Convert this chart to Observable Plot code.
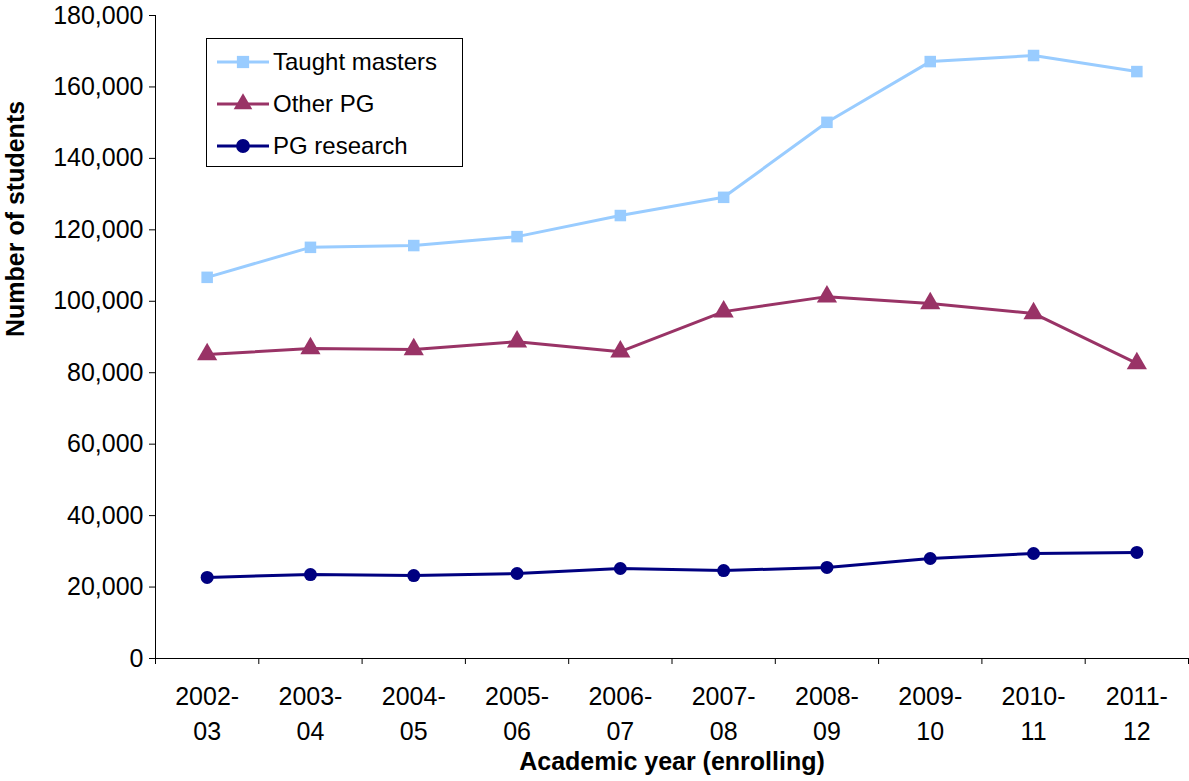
<!DOCTYPE html>
<html><head>
<script src="https://cdn.jsdelivr.net/npm/d3@7"></script>
<script src="https://cdn.jsdelivr.net/npm/@observablehq/plot@0.6"></script>
<style>
body{margin:0;background:#fff;font-family:"Liberation Sans",Arial,sans-serif}
#wrap{position:relative;width:1189px;height:781px}
#legend{position:absolute;left:206px;top:38px;width:255px;height:127px;border:1.5px solid #000;background:#fff;font-size:24px}
.li{position:absolute;left:8px;display:flex;align-items:center}
#chart svg text{font-size:25px}
</style>
</head><body>
<div id="wrap"><div id="chart"></div><div id="legend"></div></div>
<script>
const years = ["2002-03","2003-04","2004-05","2005-06","2006-07","2007-08","2008-09","2009-10","2010-11","2011-12"]
const taught = [106700,115100,115600,118100,124000,129100,150100,167100,168800,164300]
const otherPG = [85100,86800,86500,88700,85900,97100,101300,99400,96600,82600]
const research = [22700,23500,23200,23800,25200,24600,25500,28000,29400,29700]

const series = [
  {name: "Taught masters", values: taught, color: "#99CCFF", symbol: "square"},
  {name: "Other PG", values: otherPG, color: "#993366", symbol: "triangle"},
  {name: "PG research", values: research, color: "#000080", symbol: "circle"}
]
const data = series.flatMap(s => s.values.map((v, i) => ({x: i + 0.5, y: v, s: s.name})))

const marks = [
  Plot.ruleY([0]),
  Plot.ruleX([0]),
  Plot.axisY({ticks: d3.range(0, 180001, 20000), tickFormat: d3.format(","), tickSize: 6, label: null, tickPadding: 6}),
  Plot.axisX({ticks: d3.range(0, 11), tickSize: 6, tickFormat: () => "", label: null}),
  Plot.axisX({ticks: d3.range(0, 10).map(i => i + 0.5), tickSize: 0, tickPadding: 0, tickFormat: d => years[Math.floor(d)].replace("-", "-\n"), lineHeight: 1.4, label: null, dy: 22}),
  Plot.text(["Number of students"], {frameAnchor: "left", dx: -140, rotate: -90, fontWeight: "bold"}),
  Plot.text(["Academic year (enrolling)"], {frameAnchor: "bottom", dy: 111, fontWeight: "bold"})
]
for (const s of series) {
  const d = data.filter(r => r.s === s.name)
  marks.push(Plot.line(d, {x: "x", y: "y", stroke: s.color, strokeWidth: 3}))
  marks.push(Plot.dot(d, {x: "x", y: "y", fill: s.color, symbol: s.symbol, r: s.symbol === "triangle" ? 7.5 : 6.5}))
}

const chart = Plot.plot({
  width: 1189, height: 781,
  marginLeft: 155, marginRight: 1, marginTop: 15, marginBottom: 123,
  style: {fontFamily: "Liberation Sans, Arial, sans-serif", color: "#000"},
  x: {domain: [0, 10], axis: null},
  y: {domain: [0, 180000], axis: null},
  marks
})
d3.select("#chart").append(() => chart)

const lg = d3.select("#legend")
series.forEach((s, i) => {
  const item = lg.append("div").attr("class", "li").style("top", (8 + i * 42) + "px")
  const svg = item.append("svg").attr("width", 56).attr("height", 30)
  svg.append("line").attr("x1", 2).attr("x2", 54).attr("y1", 15).attr("y2", 15).attr("stroke", s.color).attr("stroke-width", 3)
  svg.append("path").attr("transform", "translate(28,15)").attr("fill", s.color)
    .attr("d", d3.symbol(s.symbol === "square" ? d3.symbolSquare : s.symbol === "triangle" ? d3.symbolTriangle : d3.symbolCircle, 150)())
  item.append("span").style("margin-left", "2px").text(s.name)
})
</script>
</body></html>
